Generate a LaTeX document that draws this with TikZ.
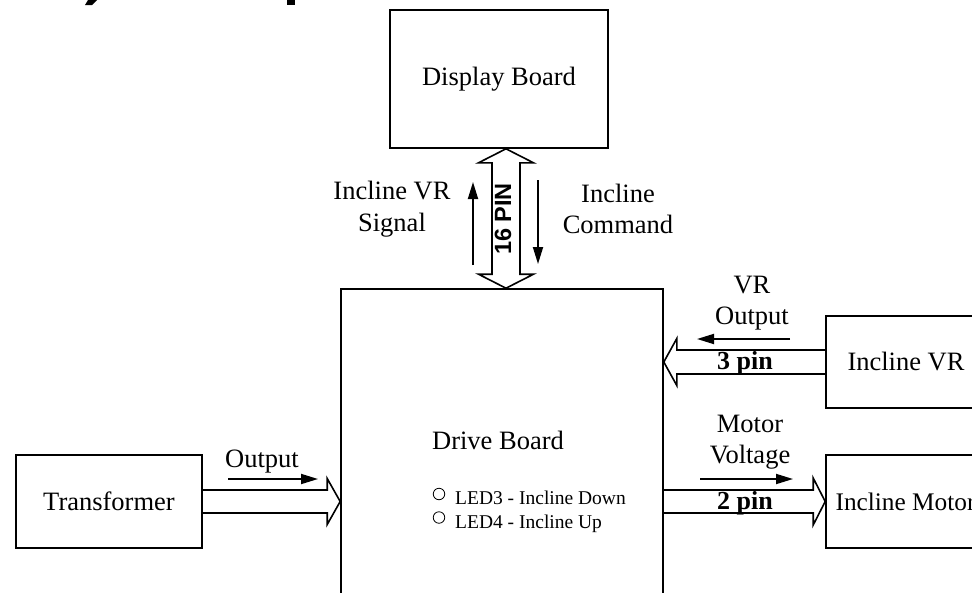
\documentclass[tikz,border=0pt]{standalone}
\usepackage{fontspec}
\setmainfont{Liberation Serif}
\newfontfamily\arialfont{Liberation Sans}
\usetikzlibrary{arrows.meta,calc}
\begin{document}
\begin{tikzpicture}[x=1pt,y=-1pt,
  box/.style={draw,line width=1.6pt,rectangle,inner sep=0pt,font=\fontsize{26.5}{32}\selectfont},
  lbl/.style={font=\fontsize{26.5}{31.5}\selectfont,align=center,inner sep=0pt},
  pinlbl/.style={font=\fontsize{26}{30}\selectfont\bfseries,inner sep=0pt},
  thinarrow/.style={line width=1.8pt,-{Triangle[length=17pt,width=10pt]}},
  fat/.style={line width=1.6pt,line join=miter},
  ledtext/.style={anchor=west,font=\fontsize{19.5}{19.5}\selectfont,inner sep=0pt},
  ledmark/.style={circle,draw,line width=0.8pt,minimum size=11.5pt,inner sep=0pt}]
\clip (0,0) rectangle (972,592);
% fragments of the cut-off title
\fill (88,0) -- (97,0) -- (92,5) -- (85,5) -- cycle;
\fill (287,0) rectangle (295,5);

% boxes
\node[box,minimum width=218pt,minimum height=138pt] (display) at (499,79) {Display Board};
\node[box,minimum width=322pt,minimum height=332pt] (drive) at (502,455) {};
\node[lbl] (drivelabel) at (498,440) {Drive Board};
\node[box,minimum width=160pt,minimum height=92pt] (incvr) at (906,362) {Incline VR};
\node[box,minimum width=159pt,minimum height=93pt,font=\fontsize{25.3}{30}\selectfont] (incmotor) at (905.5,501.5) {Incline Motor};
\node[box,minimum width=186pt,minimum height=93pt] (trans) at (109,501.5) {Transformer};

% 16 pin bus (double fat arrow)
\coordinate (busx) at (506,0);
\coordinate (bt) at (busx |- display.south);
\coordinate (bb) at (busx |- drive.north);
\draw[fat] (bt) -- ($(bt)+(27.5,14)$) -- ($(bt)+(14,14)$) -- ($(bb)+(14,-14)$)
  -- ($(bb)+(27.5,-14)$) -- (bb) -- ($(bb)+(-27.5,-14)$) -- ($(bb)+(-14,-14)$)
  -- ($(bt)+(-14,14)$) -- ($(bt)+(-27.5,14)$) -- cycle;
\node[font=\arialfont\bfseries\fontsize{23.5}{23.5}\selectfont,rotate=90,inner sep=0pt] (p16) at (503,219) {16 PIN};

% transformer -> drive
\coordinate (oa) at (trans.east);
\coordinate (ob) at (drive.west |- trans.east);
\draw[fat] ($(oa)+(0,-11.5)$) -- ($(ob)+(-13,-11.5)$) -- ($(ob)+(-13,-23)$) -- (ob)
  -- ($(ob)+(-13,23)$) -- ($(ob)+(-13,11.5)$) -- ($(oa)+(0,11.5)$);

% incline VR -> drive (3 pin)
\coordinate (va) at (incvr.west);
\coordinate (vb) at (drive.east |- incvr.west);
\draw[fat] ($(va)+(0,-12)$) -- ($(vb)+(13,-12)$) -- ($(vb)+(13,-23.5)$) -- (vb)
  -- ($(vb)+(13,23.5)$) -- ($(vb)+(13,12)$) -- ($(va)+(0,12)$);
\node[pinlbl] (p3) at (745,363) {3 pin};

% drive -> incline motor (2 pin)
\coordinate (ma) at (drive.east |- incmotor.west);
\coordinate (mb) at (incmotor.west);
\draw[fat] ($(ma)+(0,-11.5)$) -- ($(mb)+(-12,-11.5)$) -- ($(mb)+(-12,-23.5)$) -- (mb)
  -- ($(mb)+(-12,23.5)$) -- ($(mb)+(-12,11.5)$) -- ($(ma)+(0,11.5)$);
\node[pinlbl] (p2) at (745,503) {2 pin};

% labels
\node[lbl] (vrsig) at (392,209) {Incline VR\\Signal};
\node[lbl] (cmd) at (618,209) {Incline\\Command};
\node[lbl] (vrout) at (752,303) {VR\\Output};
\node[lbl] (mv) at (750,442) {Motor\\Voltage};
\node[lbl] (outl) at (262,462) {Output};

% thin signal arrows
\coordinate (u1) at (473,265); \coordinate (u2) at (473,182);
\draw[thinarrow] (u1) -- (u2);
\coordinate (d1) at (538,180); \coordinate (d2) at (538,264);
\draw[thinarrow] (d1) -- (d2);
\coordinate (r1) at (790,339); \coordinate (r2) at (697,339);
\draw[thinarrow] (r1) -- (r2);
\coordinate (m1) at (700,479); \coordinate (m2) at (793,479);
\draw[thinarrow] (m1) -- (m2);
\coordinate (t1) at (228,479); \coordinate (t2) at (318,479);
\draw[thinarrow] (t1) -- (t2);

% LEDs
\node[ledmark] (led3) at (439,494) {};
\node[ledtext] (led3t) at (455,498) {LED3 - Incline Down};
\node[ledmark] (led4) at (439,517.5) {};
\node[ledtext] (led4t) at (455,523.5) {LED4 - Incline Up};
\end{tikzpicture}
\end{document}
